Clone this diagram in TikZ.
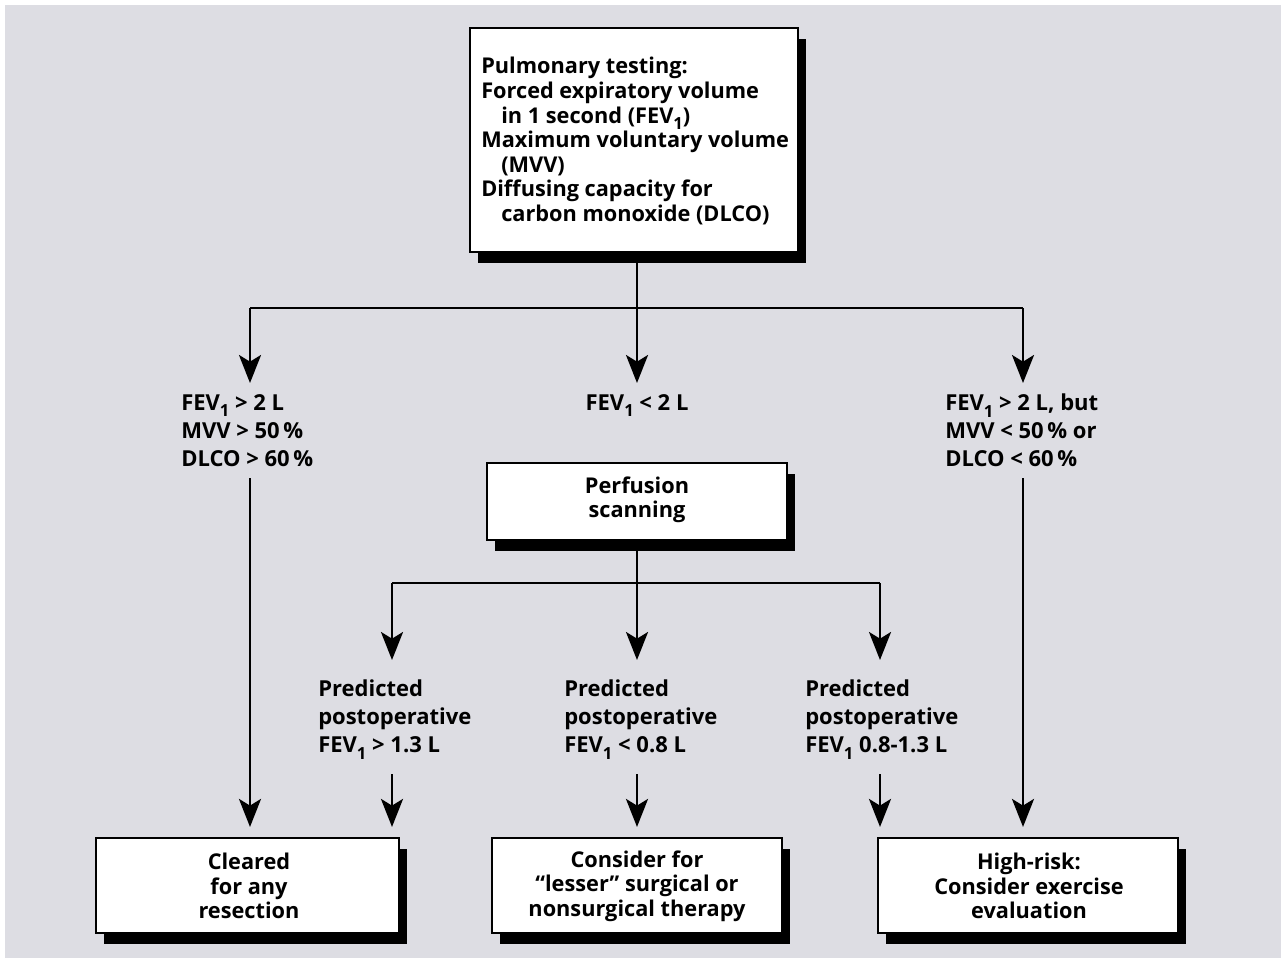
\documentclass[tikz,border=0pt]{standalone}
\usepackage{fontspec}
\setmainfont{Open Sans}
\usetikzlibrary{shadows,arrows.meta}
\definecolor{bg}{RGB}{221,221,227}
\newcommand{\subn}[1]{\raisebox{-0.28em}{\fontsize{12.5}{12.5}\selectfont #1}}
\begin{document}
\begin{tikzpicture}[x=0.75pt,y=-0.75pt,
  every node/.style={font=\fontsize{16.3}{18.4}\selectfont\bfseries},
  box/.style={draw=black, line width=1.6pt, fill=white, inner sep=0pt,
    drop shadow={shadow xshift=6pt, shadow yshift=-8pt, fill=black, opacity=1}},
  txt/.style={inner sep=0pt, align=left},
  lab/.style={inner sep=0pt, align=left, font=\fontsize{16.5}{21}\selectfont\bfseries},
  ctxt/.style={inner sep=0pt, align=center},
  conn/.style={line width=2pt, line join=miter},
  arr/.style={conn, -{Stealth[length=21pt,width=16.5pt,inset=5pt]}}]
\fill[white] (0,0) rectangle (1281,958);
\fill[bg] (5,5) rectangle (1281,958);
\useasboundingbox (0,0) rectangle (1281,958);

% boxes
\node[box, minimum width=246pt, minimum height=168pt] (top) at (634,140) {};
\node[txt, anchor=west] (toptext) at (481,141) {Pulmonary testing:\\
Forced expiratory volume\\
\hspace*{15pt}in 1 second (FEV\subn{1})\\
Maximum voluntary volume\\
\hspace*{15pt}(MVV)\\
Diffusing capacity for\\
\hspace*{15pt}carbon monoxide (DLCO)};

\node[box, minimum width=225pt, minimum height=57.75pt] (perf) at (637,501.5) {};
\node[ctxt] (perftext) at (637,500) {Perfusion\\scanning};

\node[box, minimum width=227.25pt, minimum height=71.25pt] (bl) at (247.5,885.5) {};
\node[ctxt] (bltext) at (249,886) {Cleared\\for any\\resection};
\node[box, minimum width=217.5pt, minimum height=71.25pt] (bm) at (637,885.5) {};
\node[ctxt] (bmtext) at (637,886) {Consider for\\``lesser'' surgical or\\nonsurgical therapy};
\node[box, minimum width=225pt, minimum height=71.25pt] (br) at (1028,885.5) {};
\node[ctxt] (brtext) at (1029,886) {High-risk:\\Consider exercise\\evaluation};

% labels
\node[lab, anchor=north west] (l1) at (181,394) {FEV\subn{1} > 2 L\\MVV > 50\,\%\\DLCO > 60\,\%};
\node[lab, anchor=north] (l2) at (637,394) {FEV\subn{1} < 2 L};
\node[lab, anchor=north west] (l3) at (945,394) {FEV\subn{1} > 2 L, but\\MVV < 50\,\% or\\DLCO < 60\,\%};

\node[lab, anchor=north west] (p1) at (318,680) {Predicted\\postoperative\\FEV\subn{1} > 1.3 L};
\node[lab, anchor=north west] (p2) at (564,680) {Predicted\\postoperative\\FEV\subn{1} < 0.8 L};
\node[lab, anchor=north west] (p3) at (805,680) {Predicted\\postoperative\\FEV\subn{1} 0.8-1.3 L};

% connector coordinates
\coordinate (j1) at (637,308);
\coordinate (h1) at (250,308);
\coordinate (h3) at (1023,308);
\coordinate (t1) at (250,383);
\coordinate (t2) at (637,383);
\coordinate (t3) at (1023,383);
\coordinate (s1) at (250,478);
\coordinate (s3) at (1023,478);
\coordinate (j2) at (637,583);
\coordinate (g1) at (392,583);
\coordinate (g3) at (880,583);
\coordinate (u1) at (392,660);
\coordinate (u2) at (637,660);
\coordinate (u3) at (880,660);
\coordinate (v1) at (392,774);
\coordinate (v2) at (637,774);
\coordinate (v3) at (880,774);

\draw[conn] (top.south -| j1) -- (j1);
\draw[conn] (h1) -- (h3);
\draw[arr] (h1) -- (t1);
\draw[arr] (j1) -- (t2);
\draw[arr] (h3) -- (t3);
\draw[arr, shorten >=7.5pt] (s1) -- (s1 |- bl.north);
\draw[arr, shorten >=7.5pt] (s3) -- (s3 |- br.north);

\draw[conn] (perf.south) -- (j2);
\draw[conn] (g1) -- (g3);
\draw[arr] (g1) -- (u1);
\draw[arr] (j2) -- (u2);
\draw[arr] (g3) -- (u3);
\draw[arr, shorten >=7.5pt] (v1) -- (v1 |- bl.north);
\draw[arr, shorten >=7.5pt] (v2) -- (v2 |- bm.north);
\draw[arr, shorten >=7.5pt] (v3) -- (v3 |- br.north);
\end{tikzpicture}
\end{document}
